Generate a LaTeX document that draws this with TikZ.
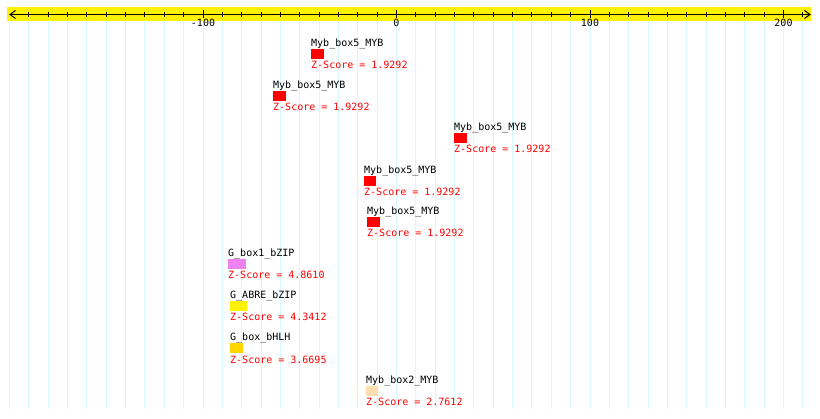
\documentclass[tikz,border=0pt]{standalone}
\usepackage{fontspec}
\setmonofont{DejaVu Sans Mono}
\definecolor{gridcyan}{RGB}{212,250,250}
\definecolor{mviolet}{RGB}{238,130,238}
\definecolor{mgold}{RGB}{255,215,0}
\definecolor{mpeach}{RGB}{255,222,173}
\tikzset{
  gridline/.style={draw=gridcyan, line width=1pt},
  axisline/.style={draw=black, line width=1pt},
  motif/.style={draw=none, inner sep=0pt, outer sep=0pt, minimum height=10pt, anchor=north west},
  lbl/.style={inner sep=0pt, anchor=base west, font=\ttfamily\fontsize{10}{12}\selectfont},
  zs/.style={lbl, text=red},
  axlbl/.style={inner sep=0pt, anchor=base, font=\ttfamily\fontsize{10}{12}\selectfont}
}
\begin{document}
\begin{tikzpicture}[x=1pt, y=-1pt]
\useasboundingbox[fill=white] (0,0) rectangle (820,419);
% grid
\foreach \v in {-200,-190,...,210}
  \draw[gridline] ({396.5+1.935*\v},21) -- ({396.5+1.935*\v},409.5);
% ruler band
\fill[yellow] (7,7) rectangle (811,21);
\draw[axisline] (10,14.5) -- (810,14.5);
\draw[axisline] (15.5,10.5) -- (10,14.5) -- (15.5,18.5);
\draw[axisline] (804.5,10.5) -- (810,14.5) -- (804.5,18.5);
\foreach \v in {-190,-180,...,210}
  \draw[axisline] ({396.5+1.935*\v},12) -- ({396.5+1.935*\v},17);
\foreach \v in {-100,0,100,200}{
  \draw[axisline] ({396.5+1.935*\v},10.5) -- ({396.5+1.935*\v},18.5);
  \node[axlbl] (t\v) at ({396.5+1.935*\v},27) {\v};
}
% motifs
\foreach \i/\nm/\L/\T/\W/\col/\z in {
  1/Myb\_box5\_MYB/311/49/12.5/red/1.9292,
  2/Myb\_box5\_MYB/273/91/12.5/red/1.9292,
  3/Myb\_box5\_MYB/454/133/13/red/1.9292,
  4/Myb\_box5\_MYB/364/176/12/red/1.9292,
  5/Myb\_box5\_MYB/367/217/13/red/1.9292,
  6/G\_box1\_bZIP/228/259/17.5/mviolet/4.8610,
  7/G\_ABRE\_bZIP/230/301/17/yellow/4.3412,
  8/G\_box\_bHLH/230/343.5/13/mgold/3.6695,
  9/Myb\_box2\_MYB/366/386/12/mpeach/2.7612}
{
  \node[motif, minimum width=\W pt, fill=\col] (m\i) at (\L,\T) {};
  \node[lbl] (n\i) at ([yshift=2.5pt]m\i.north west) {\nm};
  \node[zs] (z\i) at ([yshift=-10pt]m\i.south west) {Z-Score = \z};
}
\end{tikzpicture}
\end{document}
